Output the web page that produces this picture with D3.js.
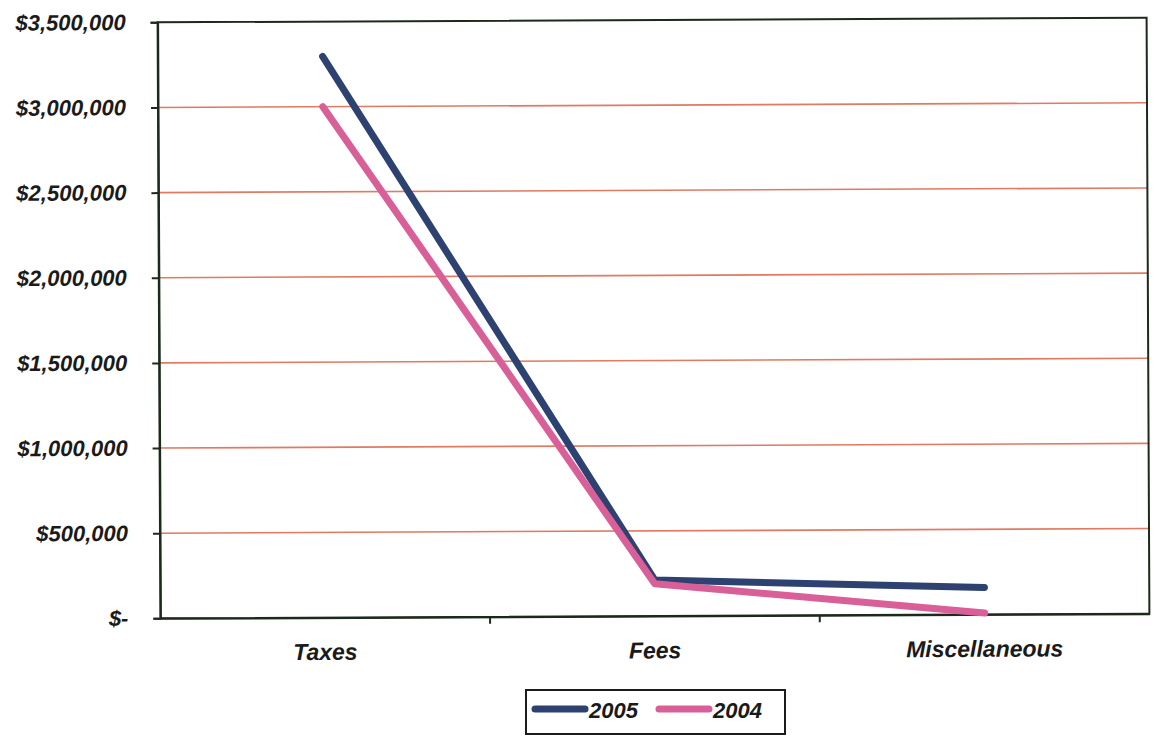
<!DOCTYPE html>
<html>
<head>
<meta charset="utf-8">
<script src="https://cdn.jsdelivr.net/npm/d3@7"></script>
<style>
  html, body { margin: 0; padding: 0; background: #fff; }
  svg { display: block; }
  text { font-family: "Liberation Sans", Arial, sans-serif; font-weight: bold; font-style: italic; fill: #1a1a1a; }
</style>
</head>
<body>
<svg id="chart" width="1157" height="736"></svg>
<script>
// Revenue by source, two years
const categories = ["Taxes", "Fees", "Miscellaneous"];
const series2005 = [3295000, 212000, 158000];
const series2004 = [3000000, 190000, 8000];
const seriesNames = ["2005", "2004"];
const yTicks = [0, 500000, 1000000, 1500000, 2000000, 2500000, 3000000, 3500000];

const colors = { "2005": "#2d4270", "2004": "#d95f98" };

const svg = d3.select("#chart");
const plotLeft = 159, plotRight = 1148, plotTop = 20, plotBottom = 616;

// slight overall tilt of the whole chart
const g = svg.append("g")
  .attr("transform", `rotate(-0.27, ${(plotLeft + plotRight) / 2}, ${(plotTop + plotBottom) / 2})`);

const x = d3.scaleBand().domain(categories).range([plotLeft, plotRight]).padding(0);
const y = d3.scaleLinear().domain([0, 3500000]).range([plotBottom, plotTop]);

// gridlines
g.append("g").selectAll("line")
  .data(yTicks.filter(v => v > 0 && v < 3500000))
  .join("line")
  .attr("x1", plotLeft).attr("x2", plotRight)
  .attr("y1", d => y(d)).attr("y2", d => y(d))
  .attr("stroke", "#e07a62").attr("stroke-width", 1.6);

// plot frame
g.append("rect")
  .attr("x", plotLeft).attr("y", plotTop)
  .attr("width", plotRight - plotLeft).attr("height", plotBottom - plotTop)
  .attr("fill", "none").attr("stroke", "#1c2a1c").attr("stroke-width", 2);

const styleText = sel => sel
  .attr("fill", "#1a1a1a")
  .style("font-family", "'Liberation Sans', Arial, sans-serif")
  .style("font-weight", "bold").style("font-style", "italic");

// y axis
const fmt = v => v === 0 ? "$-" : "$" + d3.format(",")(v);
const yAxis = g.append("g")
  .attr("transform", `translate(${plotLeft},0)`)
  .call(d3.axisLeft(y).tickValues(yTicks).tickFormat(fmt).tickSize(7).tickPadding(25));
yAxis.select(".domain").attr("stroke", "#1c2a1c").attr("stroke-width", 2);
yAxis.selectAll(".tick line").attr("stroke", "#1c2a1c").attr("stroke-width", 2);
yAxis.selectAll(".tick text").attr("font-size", 22).call(styleText);

// x axis
const xAxis = g.append("g")
  .attr("transform", `translate(0,${plotBottom})`)
  .call(d3.axisBottom(x).tickSize(0).tickPadding(26));
xAxis.select(".domain").attr("stroke", "#1c2a1c").attr("stroke-width", 2);
xAxis.selectAll(".tick text").attr("font-size", 23).call(styleText);
// category separators
g.append("g").selectAll("line")
  .data(categories.slice(1))
  .join("line")
  .attr("x1", d => x(d)).attr("x2", d => x(d))
  .attr("y1", plotBottom).attr("y2", plotBottom + 7)
  .attr("stroke", "#1c2a1c").attr("stroke-width", 2);

// series lines
const line = d3.line()
  .x((d, i) => x(categories[i]) + x.bandwidth() / 2)
  .y(d => y(d));

const seriesData = [
  { name: "2005", values: series2005 },
  { name: "2004", values: series2004 }
];

// draw 2005 first, 2004 on top
g.append("g").selectAll("path")
  .data(seriesData)
  .join("path")
  .attr("d", d => line(d.values))
  .attr("fill", "none")
  .attr("stroke", d => colors[d.name])
  .attr("stroke-width", 7)
  .attr("stroke-linecap", "round")
  .attr("stroke-linejoin", "round");

// legend
const legend = svg.append("g");
legend.append("rect")
  .attr("x", 526).attr("y", 690).attr("width", 259).attr("height", 44)
  .attr("fill", "#fff").attr("stroke", "#1c1c1c").attr("stroke-width", 2);

const legendItems = legend.selectAll("g.item")
  .data(seriesNames)
  .join("g")
  .attr("class", "item")
  .attr("transform", (d, i) => `translate(${535 + i * 124},709)`);
legendItems.append("line")
  .attr("x1", 0).attr("x2", 50).attr("y1", 0).attr("y2", 0)
  .attr("stroke", d => colors[d]).attr("stroke-width", 7)
  .attr("stroke-linecap", "round");
legendItems.append("text")
  .attr("x", 54).attr("y", 9)
  .attr("font-size", 22)
  .text(d => d);
</script>
</body>
</html>
